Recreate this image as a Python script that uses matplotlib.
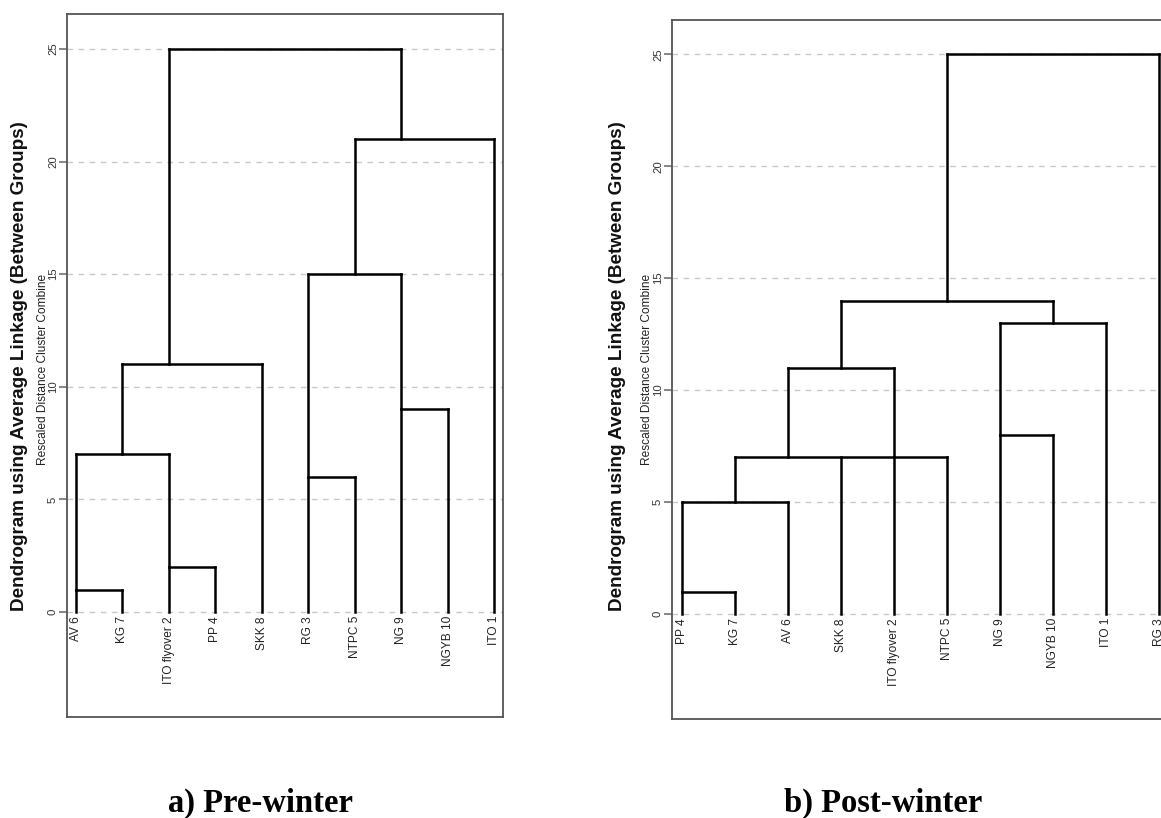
import matplotlib
matplotlib.use("Agg")
import matplotlib.pyplot as plt

# ---- cluster data (SPSS average-linkage, rescaled distance 0-25) ----
leaves_pre = ["AV 6", "KG 7", "ITO flyover 2", "PP 4", "SKK 8",
              "RG 3", "NTPC 5", "NG 9", "NGYB 10", "ITO 1"]
# each merge: (member a, member b, rescaled distance); ints refer to earlier merges
merges_pre = [
    ("AV 6", "KG 7", 1),
    ("ITO flyover 2", "PP 4", 2),
    ("RG 3", "NTPC 5", 6),
    (0, 1, 7),
    ("NG 9", "NGYB 10", 9),
    (3, "SKK 8", 11),
    (2, 4, 15),
    (6, "ITO 1", 21),
    (5, 7, 25),
]

leaves_post = ["PP 4", "KG 7", "AV 6", "SKK 8", "ITO flyover 2",
               "NTPC 5", "NG 9", "NGYB 10", "ITO 1", "RG 3"]
merges_post = [
    ("PP 4", "KG 7", 1),
    (0, "AV 6", 5),
    (1, "SKK 8", 7),
    ("ITO flyover 2", "NTPC 5", 7),
    ("NG 9", "NGYB 10", 8),
    (2, 3, 11),
    (4, "ITO 1", 13),
    (5, 6, 14),
    (7, "RG 3", 25),
]

y_ticks = [0, 5, 10, 15, 20, 25]
y_title = "Dendrogram using Average Linkage (Between Groups)"
y_sub = "Rescaled Distance Cluster Combine"
captions = ["a) Pre-winter", "b) Post-winter"]

SANS = ["Liberation Sans", "DejaVu Sans"]
SERIF = ["Liberation Serif", "DejaVu Serif"]


def draw_dendrogram(ax, leaves, merges):
    pos = {name: i for i, name in enumerate(leaves)}
    nodes = []          # (anchor x, height) for each merge
    bars = []           # horizontal bars (x0, x1, height)

    def node(ref):
        if isinstance(ref, str):
            return pos[ref], 0.0
        return nodes[ref]

    for a, b, h in merges:
        xa, ha = node(a)
        xb, hb = node(b)
        x0, x1 = min(xa, xb), max(xa, xb)
        ax.plot([xa, xa], [ha, h], color="black", lw=1.8, solid_capstyle="projecting", zorder=3)
        ax.plot([xb, xb], [hb, h], color="black", lw=1.8, solid_capstyle="projecting", zorder=3)
        bars.append([x0, x1, h])
        # the joined cluster rises from the (character-grid) middle of the bar
        nodes.append(((x0 + x1) // 2, h))

    # bars at the same level in neighbouring slots print as one line
    bars.sort(key=lambda b: (b[2], b[0]))
    joined = []
    for b in bars:
        if joined and joined[-1][2] == b[2] and b[0] - joined[-1][1] <= 1:
            joined[-1][1] = max(joined[-1][1], b[1])
        else:
            joined.append(list(b))
    for x0, x1, h in joined:
        ax.plot([x0, x1], [h, h], color="black", lw=1.8, solid_capstyle="projecting", zorder=3)

    for i, name in enumerate(leaves):
        ax.text(i, -0.18, name, rotation=90, ha="center", va="top",
                fontsize=8.6, family=SANS, color="#222222")


fig = plt.figure(figsize=(11.61, 8.18), dpi=100)

panels = [
    # rect, xlim, ylim, leaves, merges, title x, sub x, caption x
    ([67 / 1161, 101 / 818, 436 / 1161, 703 / 818], (-0.194, 9.194), (-4.66, 26.55),
     leaves_pre, merges_pre, 20, 43, 260),
    ([672 / 1161, 99 / 818, 497 / 1161, 699 / 818], (-0.19, 9.19), (-4.69, 26.53),
     leaves_post, merges_post, 617, 647, 883),
]

for k, (rect, xl, yl, leaves, merges, tx, sx, cx) in enumerate(panels):
    ax = fig.add_axes(rect)
    ax.set_xlim(*xl)
    ax.set_ylim(*yl)
    for s in ax.spines.values():
        s.set_color("#555555")
        s.set_linewidth(1.3)
    ax.set_xticks([])
    ax.set_yticks(y_ticks)
    ax.set_yticklabels([str(t) for t in y_ticks], rotation=90, va="center",
                       fontsize=8.2, family=SANS, color="#333333")
    ax.tick_params(axis="y", length=6, width=1.1, color="#666666", pad=0.5)
    for t in y_ticks:
        ax.axhline(t, color="#c8c8c8", lw=1.0, ls=(0, (4, 4)), zorder=1)
    draw_dendrogram(ax, leaves, merges)

    fig.text(tx / 1161, 1 - 366 / 818, y_title, rotation=90, ha="center", va="center",
             fontsize=13.6, fontweight="bold", family=SANS, color="#111111")
    fig.text(sx / 1161, 1 - 369 / 818, y_sub, rotation=90, ha="center", va="center",
             fontsize=8.6, family=SANS, color="#222222")
    fig.text(cx / 1161, 1 - 812 / 818, captions[k], ha="center", va="baseline",
             fontsize=23.5, fontweight="bold", family=SERIF, color="black")

fig.savefig("out.png", dpi=100)
